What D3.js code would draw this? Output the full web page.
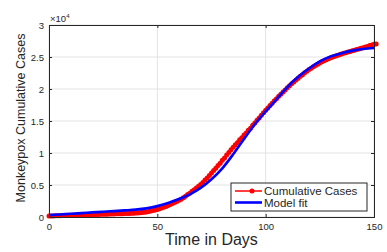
<!DOCTYPE html>
<html>
<head>
<meta charset="utf-8">
<script src="https://cdn.jsdelivr.net/npm/d3@7"></script>
<style>
  body { margin: 0; background: #fff; }
  text { font-family: "Liberation Sans", Arial, sans-serif; fill: #262626; }
</style>
</head>
<body>
<svg id="chart" width="387" height="252"></svg>
<script>
// cumulative cases, one value per day (day 0 .. 150)
var cases = [
  150,160,170,185,195,205,215,230,240,250,260,
  270,280,290,300,315,325,335,345,360,370,
  380,390,400,415,425,435,445,460,470,480,
  490,500,510,520,530,545,555,570,590,610,
  640,670,700,740,790,850,920,1000,1090,1190,
  1300,1410,1530,1660,1800,1950,2110,2270,2440,2610,
  2780,3000,3230,3500,3720,4010,4250,4540,4790,5080,
  5390,5780,6110,6500,6860,7280,7620,8060,8410,8850,
  9230,9680,10060,10500,10880,11300,11650,12080,12400,12820,
  13140,13560,13880,14320,14680,15100,15480,15900,16270,16680,
  17030,17420,17760,18150,18480,18860,19180,19550,19850,20200,
  20490,20820,21100,21420,21680,21990,22230,22520,22760,23030,
  23240,23470,23670,23880,24060,24250,24410,24580,24720,24870,
  24990,25120,25230,25350,25450,25570,25660,25780,25860,25980,
  26060,26180,26260,26380,26460,26580,26660,26780,26860,26980,27040
];

// model fit, sampled every 5 days
var fitDays = [0,5,10,15,20,25,30,35,40,45,50,55,60,65,70,75,80,85,90,95,100,105,110,115,120,125,130,135,140,145,150];
var fitValues = [300,400,500,600,720,820,920,1030,1150,1350,1700,2200,2800,3550,4550,5900,7600,9800,12200,14500,16500,18400,20300,21900,23200,24300,25100,25600,26000,26250,26400];

var xTicks = [0, 50, 100, 150];
var yTicks = [0, 5000, 10000, 15000, 20000, 25000, 30000];
var legendNames = ["Cumulative Cases", "Model fit"];

var margin = { top: 25, right: 13, bottom: 35, left: 49 };
var width = 387 - margin.left - margin.right;
var height = 252 - margin.top - margin.bottom;

var svg = d3.select("#chart");
var g = svg.append("g")
    .attr("transform", "translate(" + margin.left + "," + margin.top + ")");

var x = d3.scaleLinear().domain([0, 150]).range([0, width]);
var y = d3.scaleLinear().domain([0, 30000]).range([height, 0]);

// grid
g.selectAll(".gx").data(xTicks).enter().append("line")
    .attr("x1", function (d) { return x(d); })
    .attr("x2", function (d) { return x(d); })
    .attr("y1", 0).attr("y2", height)
    .attr("stroke", "#e3e3e3").attr("stroke-width", 1);
g.selectAll(".gy").data(yTicks).enter().append("line")
    .attr("x1", 0).attr("x2", width)
    .attr("y1", function (d) { return y(d); })
    .attr("y2", function (d) { return y(d); })
    .attr("stroke", "#e3e3e3").attr("stroke-width", 1);

// data
var caseLine = d3.line()
    .x(function (d, i) { return x(i); })
    .y(function (d) { return y(d); });

g.append("path")
    .datum(cases)
    .attr("d", caseLine)
    .attr("fill", "none")
    .attr("stroke", "#ff0000")
    .attr("stroke-width", 1.5);

g.selectAll(".pt").data(cases).enter().append("circle")
    .attr("cx", function (d, i) { return x(i); })
    .attr("cy", function (d) { return y(d); })
    .attr("r", 2.5)
    .attr("fill", "#ff0000");

var fitLine = d3.line()
    .x(function (d, i) { return x(fitDays[i]); })
    .y(function (d) { return y(d); })
    .curve(d3.curveMonotoneX);

g.append("path")
    .datum(fitValues)
    .attr("d", fitLine)
    .attr("fill", "none")
    .attr("stroke", "#0000ff")
    .attr("stroke-width", 2.6);

// axes (box with inward ticks)
var xAxis = d3.axisBottom(x).tickValues(xTicks).tickSize(-3).tickPadding(6);
var yAxis = d3.axisLeft(y).tickValues(yTicks).tickSize(-3).tickPadding(5)
    .tickFormat(function (d) { return d / 10000; });

var gx = g.append("g").attr("transform", "translate(0," + height + ")").call(xAxis);
var gy = g.append("g").call(yAxis);
g.append("g").call(d3.axisTop(x).tickValues(xTicks).tickSize(-3).tickFormat(""));
g.append("g").attr("transform", "translate(" + width + ",0)")
    .call(d3.axisRight(y).tickValues(yTicks).tickSize(-3).tickFormat(""));

g.selectAll(".domain").attr("stroke", "#262626");
g.selectAll(".tick line").attr("stroke", "#262626");
g.selectAll(".tick text").style("font-size", "9.5px").attr("fill", "#262626");

// exponent
var ex = g.append("text").attr("x", 1).attr("y", -3).style("font-size", "9.5px");
ex.append("tspan").text("\u00d710");
ex.append("tspan").attr("dy", -4).style("font-size", "6px").text("4");

// labels
svg.append("text")
    .attr("x", margin.left + width / 2)
    .attr("y", 245)
    .attr("text-anchor", "middle")
    .style("font-size", "16px")
    .text("Time in Days");

svg.append("text")
    .attr("transform", "translate(25," + (margin.top + height / 2 - 3) + ") rotate(-90)")
    .attr("text-anchor", "middle")
    .style("font-size", "12.5px")
    .text("Monkeypox Cumulative Cases");

// legend
var legend = svg.append("g").attr("transform", "translate(231,183)");
legend.append("rect")
    .attr("width", 136).attr("height", 28)
    .attr("fill", "#fff").attr("stroke", "#262626").attr("stroke-width", 1);

var colours = ["#ff0000", "#0000ff"];
var rows = legend.selectAll(".row").data(legendNames).enter().append("g")
    .attr("transform", function (d, i) { return "translate(0," + (8 + i * 11.5) + ")"; });
rows.append("line")
    .attr("x1", 4).attr("x2", 31)
    .attr("stroke", function (d, i) { return colours[i]; })
    .attr("stroke-width", function (d, i) { return i == 0 ? 1.5 : 2.6; });
rows.filter(function (d, i) { return i == 0; }).append("circle")
    .attr("cx", 21).attr("r", 2.5).attr("fill", "#ff0000");
rows.append("text")
    .attr("x", 33).attr("y", 4)
    .style("font-size", "11.5px")
    .attr("fill", "#000")
    .text(function (d) { return d; });
</script>
</body>
</html>
